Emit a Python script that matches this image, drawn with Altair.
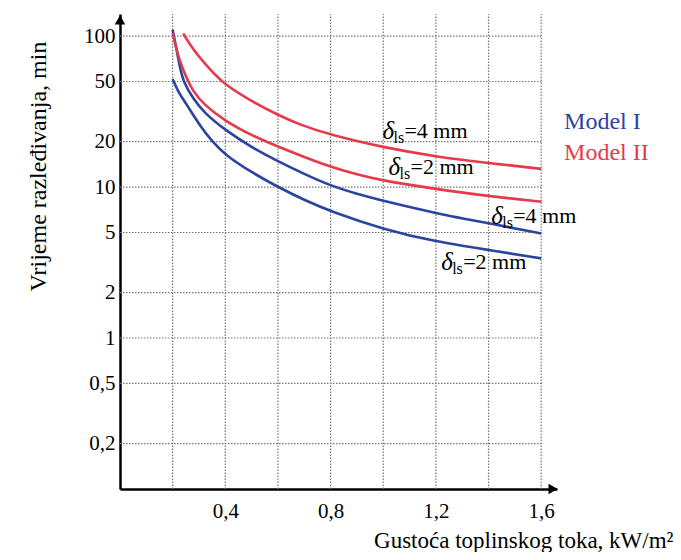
import altair as alt
import pandas as pd

FONT = "Liberation Serif"
BLUE = "#2b44a0"
RED = "#e63a4c"

# ---- data ----
m1_4_x = [0.2, 0.214, 0.226, 0.24, 0.277, 0.32, 0.4, 0.5, 0.6, 0.7, 0.8, 0.9, 1.0, 1.2, 1.4, 1.6]
m1_4_y = [110, 83, 64, 50, 38.6, 31, 23.8, 18.3, 14.8, 12.2, 10.2, 9.0, 8.1, 6.7, 5.75, 4.93]

m1_2_x = [0.2, 0.22, 0.25, 0.3, 0.35, 0.4, 0.5, 0.6, 0.7, 0.8, 1.0, 1.2, 1.4, 1.6]
m1_2_y = [52, 43, 36, 26, 20, 16.3, 12.5, 10.0, 8.2, 6.9, 5.25, 4.34, 3.83, 3.37]

m2_2_x = [0.2, 0.21, 0.225, 0.25, 0.277, 0.32, 0.4, 0.5, 0.6, 0.7, 0.8, 0.9, 1.0, 1.2, 1.4, 1.6]
m2_2_y = [105, 88, 70, 54, 43, 35, 27.3, 22.0, 18.5, 15.8, 13.6, 12.1, 11.0, 9.7, 8.7, 8.0]

m2_4_x = [0.24, 0.276, 0.338, 0.4, 0.5, 0.6, 0.68, 0.8, 1.0, 1.2, 1.4, 1.6]
m2_4_y = [104, 82, 61, 47.3, 37, 30, 26, 22.1, 18.3, 15.9, 14.4, 13.2]

x_ticks = [0.4, 0.8, 1.2, 1.6]
x_grid = [0.2, 0.4, 0.6, 0.8, 1.0, 1.2, 1.4, 1.6]
y_ticks = [0.2, 0.5, 1, 2, 5, 10, 20, 50, 100]

label_x = [0.997, 1.02, 1.41, 1.22]
label_y = [23.5, 13.6, 6.43, 3.18]
label_text = ["=4 mm", "=2 mm", "=4 mm", "=2 mm"]

legend_text = ["Model I", "Model II"]
legend_color = [BLUE, RED]
legend_x = [1.687, 1.687]
legend_y = [26.9, 16.8]

# ---- tables ----
rows = []
for name, xs_, ys_ in [("m1_4", m1_4_x, m1_4_y), ("m1_2", m1_2_x, m1_2_y),
                       ("m2_2", m2_2_x, m2_2_y), ("m2_4", m2_4_x, m2_4_y)]:
    for a, b in zip(xs_, ys_):
        rows.append({"series": name, "x": a, "y": b})
curves = pd.DataFrame(rows)

xs = alt.Scale(domain=[0, 1.66], nice=False, zero=False)
ys = alt.Scale(type="log", domain=[0.1, 140], nice=False)

XAX = alt.Axis(
    values=x_ticks, labelExpr="replace(format(datum.value, '.1f'), '.', ',')",
    ticks=False, grid=False, domainColor="black", domainWidth=2.5,
    labelFont=FONT, labelFontSize=21, labelColor="black", labelPadding=11,
    title="Gustoća toplinskog toka, kW/m²", titleFont=FONT, titleFontSize=23,
    titleFontWeight="normal", titleColor="black", titleAlign="right",
    titleBaseline="alphabetic", titleX=553, titleY=58)
YAX = alt.Axis(
    values=y_ticks, labelExpr="replace(toString(datum.value), '.', ',')",
    ticks=False, grid=False, domainColor="black", domainWidth=2.5,
    labelFont=FONT, labelFontSize=21, labelColor="black", labelPadding=5,
    title="Vrijeme razleđivanja, min", titleFont=FONT, titleFontSize=24,
    titleFontWeight="normal", titleColor="black", titleAngle=270,
    titleAlign="center", titleBaseline="middle", titleX=-82, titleY=152)


def X(f="x:Q"):
    return alt.X(f, scale=xs, axis=XAX)


def Y(f="y:Q"):
    return alt.Y(f, scale=ys, axis=YAX)


vgrid = alt.Chart(pd.DataFrame({"x": x_grid, "y": [0.1] * len(x_grid), "y2": [140] * len(x_grid)})).mark_rule(
    color="#777", strokeWidth=1.2, strokeDash=[1.5, 1.5]
).encode(x=X(), y=Y(), y2="y2:Q")

hgrid = alt.Chart(pd.DataFrame({"y": y_ticks, "x": [0] * len(y_ticks), "x2": [1.6] * len(y_ticks)})).mark_rule(
    color="#777", strokeWidth=1.2, strokeDash=[1.5, 1.5]
).encode(x=X(), x2="x2:Q", y=Y())

lines = alt.Chart(curves).mark_line(strokeWidth=2.6, interpolate="basis").encode(
    x=X(), y=Y(),
    color=alt.Color("series:N", scale=alt.Scale(domain=["m1_4", "m1_2", "m2_2", "m2_4"],
                                                range=[BLUE, BLUE, RED, RED]), legend=None),
    detail="series:N",
)

arrows = alt.Chart(pd.DataFrame({"x": [1.645, 0], "y": [0.1, 128], "shape": ["triangle-right", "triangle-up"]})).mark_point(
    filled=True, color="black", size=110, opacity=1
).encode(x=X(), y=Y(), shape=alt.Shape("shape:N", scale=None))

lab = pd.DataFrame({"x": label_x, "y": label_y, "t": label_text})
base = alt.Chart(lab).encode(x=X(), y=Y())
delta = base.mark_text(font=FONT, fontSize=25, fontStyle="italic", align="left", baseline="middle",
                       color="black", text="δ")
sub = base.mark_text(font=FONT, fontSize=16, align="left", baseline="middle", color="black",
                     text="ls", dx=11, dy=7)
rest = base.mark_text(font=FONT, fontSize=22, align="left", baseline="middle", color="black",
                      dx=22).encode(text="t:N")

leg = alt.Chart(pd.DataFrame({"x": legend_x, "y": legend_y, "t": legend_text, "c": legend_color})).mark_text(
    font=FONT, fontSize=24, align="left", baseline="middle"
).encode(x=X(), y=Y(), text="t:N", color=alt.Color("c:N", scale=None))

chart = alt.layer(vgrid, hgrid, lines, arrows, delta, sub, rest, leg).properties(
    width=437, height=475,
    autosize=alt.AutoSizeParams(type="none"),
    padding={"left": 112, "top": 6, "right": 116, "bottom": 63},
    background="white",
).configure_view(strokeWidth=0)

chart.save("out.html", embed_options={"renderer": "svg", "actions": False})
